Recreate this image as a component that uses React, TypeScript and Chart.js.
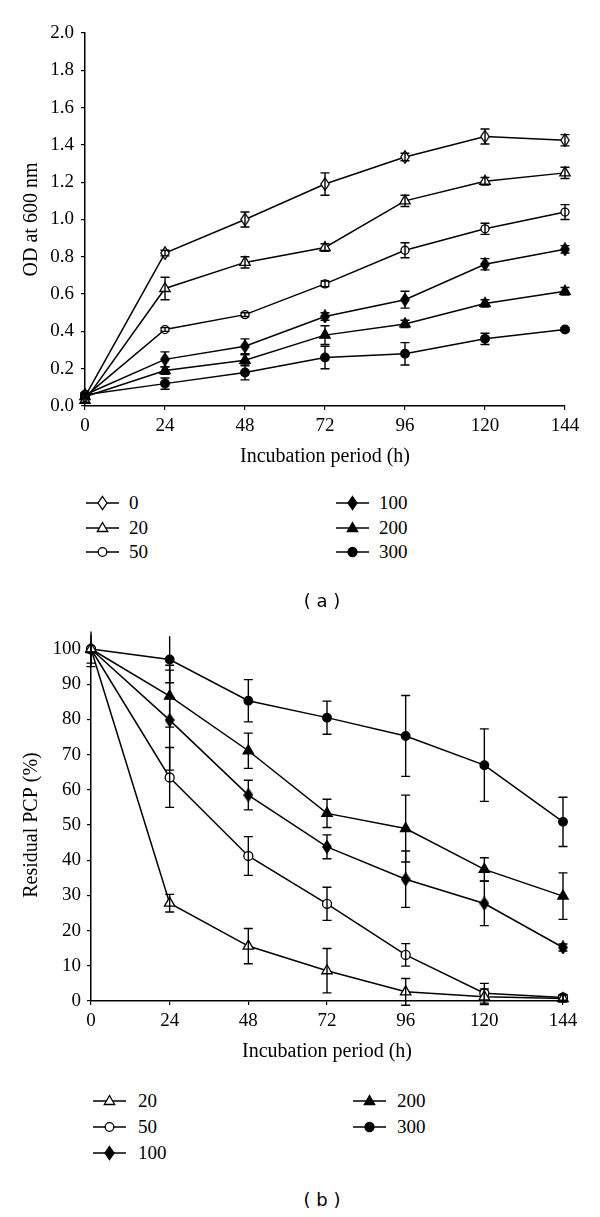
import React, { useEffect, useRef } from "react";
import { Chart, registerables } from "chart.js";
Chart.register(...registerables);

// ---------- data ----------
const hours = [0, 24, 48, 72, 96, 120, 144];

// (a) growth, OD at 600 nm
const odLabels = ["0", "20", "50", "100", "200", "300"];
const od0 = [0.05, 0.82, 1.0, 1.19, 1.335, 1.445, 1.425];
const od0Err = [0.01, 0.015, 0.04, 0.06, 0.02, 0.04, 0.03];
const od20 = [0.03, 0.63, 0.77, 0.85, 1.1, 1.205, 1.25];
const od20Err = [0.01, 0.06, 0.03, 0.02, 0.03, 0.02, 0.03];
const od50 = [0.05, 0.41, 0.49, 0.655, 0.835, 0.95, 1.04];
const od50Err = [0.01, 0.01, 0.01, 0.015, 0.04, 0.03, 0.04];
const od100 = [0.06, 0.25, 0.32, 0.48, 0.57, 0.76, 0.84];
const od100Err = [0.01, 0.04, 0.04, 0.02, 0.045, 0.03, 0.02];
const od200 = [0.05, 0.19, 0.245, 0.38, 0.44, 0.55, 0.615];
const od200Err = [0.01, 0.02, 0.03, 0.05, 0.02, 0.02, 0.02];
const od300 = [0.06, 0.12, 0.18, 0.26, 0.28, 0.36, 0.41];
const od300Err = [0.01, 0.03, 0.04, 0.06, 0.06, 0.03, 0.01];

// (b) residual PCP (%)
const pcpLabels = ["20", "50", "100", "200", "300"];
const pcp20 = [100, 27.8, 15.6, 8.6, 2.6, 1.2, 0.7];
const pcp20Err = [5, 2.5, 5, 6.3, 3.8, 2.2, 1.0];
const pcp50 = [100, 63.5, 41.2, 27.6, 13.1, 2.2, 1.0];
const pcp50Err = [4, 8.5, 5.5, 4.7, 3.2, 2.8, 0.8];
const pcp100 = [100, 79.8, 58.5, 43.8, 34.6, 27.7, 15.2];
const pcp100Err = [1, 14.2, 4.2, 3.4, 8, 6.3, 1];
const pcp200 = [100, 86.6, 71.1, 53.3, 49.0, 37.4, 29.8];
const pcp200Err = [1, 8.8, 5, 4, 9.5, 3.3, 6.6];
const pcp300 = [100, 97, 85.3, 80.5, 75.3, 67.0, 50.9];
const pcp300Err = [1, 6.6, 6, 4.7, 11.5, 10.3, 7];

const xTitle = "Incubation period (h)";
const odTitle = "OD at 600 nm";
const pcpTitle = "Residual PCP (%)";

type Mark = "diamond" | "triangle" | "circle";
type Series = { label: string; values: number[]; errs: number[]; mark: Mark; filled: boolean };

const odSeries: Series[] = [
  { label: odLabels[0], values: od0, errs: od0Err, mark: "diamond", filled: false },
  { label: odLabels[1], values: od20, errs: od20Err, mark: "triangle", filled: false },
  { label: odLabels[2], values: od50, errs: od50Err, mark: "circle", filled: false },
  { label: odLabels[3], values: od100, errs: od100Err, mark: "diamond", filled: true },
  { label: odLabels[4], values: od200, errs: od200Err, mark: "triangle", filled: true },
  { label: odLabels[5], values: od300, errs: od300Err, mark: "circle", filled: true },
];

const pcpSeries: Series[] = [
  { label: pcpLabels[0], values: pcp20, errs: pcp20Err, mark: "triangle", filled: false },
  { label: pcpLabels[1], values: pcp50, errs: pcp50Err, mark: "circle", filled: false },
  { label: pcpLabels[2], values: pcp100, errs: pcp100Err, mark: "diamond", filled: true },
  { label: pcpLabels[3], values: pcp200, errs: pcp200Err, mark: "triangle", filled: true },
  { label: pcpLabels[4], values: pcp300, errs: pcp300Err, mark: "circle", filled: true },
];

const SERIF = '"Liberation Serif", "Times New Roman", serif';

// ---------- helpers ----------
function diamondCanvas(filled: boolean, w: number, h: number) {
  const c = document.createElement("canvas");
  c.width = w;
  c.height = h;
  const ctx = c.getContext("2d")!;
  ctx.beginPath();
  ctx.moveTo(w / 2, 0.8);
  ctx.lineTo(w - 0.8, h / 2);
  ctx.lineTo(w / 2, h - 0.8);
  ctx.lineTo(0.8, h / 2);
  ctx.closePath();
  ctx.fillStyle = filled ? "#000" : "#fff";
  ctx.fill();
  ctx.lineWidth = 1.3;
  ctx.strokeStyle = "#000";
  ctx.stroke();
  return c;
}

const errorBarPlugin = {
  id: "errorBars",
  afterDatasetsDraw(chart: any) {
    const ctx = chart.ctx;
    const yScale = chart.scales.y;
    const yMax = yScale.max;
    chart.data.datasets.forEach((ds: any, i: number) => {
      const errs: number[] | undefined = ds.errors;
      if (!errs) return;
      const meta = chart.getDatasetMeta(i);
      ctx.save();
      ctx.strokeStyle = "#000";
      ctx.lineWidth = 1.4;
      meta.data.forEach((pt: any, j: number) => {
        const v = ds.data[j].y;
        const e = errs[j];
        const hi = v + e;
        const lo = v - e;
        const pTop = yScale.getPixelForValue(hi);
        const pBot = yScale.getPixelForValue(lo);
        const x = pt.x;
        ctx.beginPath();
        ctx.moveTo(x, pTop);
        ctx.lineTo(x, pBot);
        if (hi <= yMax) {
          ctx.moveTo(x - 4.5, pTop);
          ctx.lineTo(x + 4.5, pTop);
        }
        ctx.moveTo(x - 4.5, pBot);
        ctx.lineTo(x + 4.5, pBot);
        ctx.stroke();
      });
      ctx.restore();
    });
  },
};

function buildDatasets(series: Series[], big: boolean) {
  return series.map((s) => {
    let pointStyle: any = s.mark;
    let radius = 4.5;
    if (s.mark === "diamond") pointStyle = diamondCanvas(s.filled, 10, 14);
    if (s.mark === "triangle") radius = 6;
    if (s.mark === "circle") radius = s.filled ? 4.3 : big ? 4.5 : 4;
    return {
      label: s.label,
      data: hours.map((h, i) => ({ x: h, y: s.values[i] })),
      errors: s.errs,
      borderColor: "#000",
      borderWidth: 1.5,
      pointStyle,
      pointRadius: radius,
      pointBackgroundColor: s.filled ? "#000" : "#fff",
      pointBorderColor: "#000",
      pointBorderWidth: 1.3,
      fill: false,
      tension: 0,
      clip: false,
    };
  });
}

type AxisCfg = {
  yMin: number;
  yMax: number;
  yStep: number;
  yTitle: string;
  yWidth: number;
  padTop: number;
  padBottom: number;
  padRight: number;
  yTickPad: number;
  fmt: (v: number) => string;
};

function buildOptions(c: AxisCfg) {
  const tickFont = { family: SERIF, size: 19 };
  const titleFont = { family: SERIF, size: 20 };
  return {
    animation: false,
    responsive: false,
    events: [],
    layout: { padding: { left: 10, right: c.padRight, top: c.padTop, bottom: c.padBottom } },
    plugins: { legend: { display: false }, tooltip: { enabled: false } },
    scales: {
      x: {
        type: "linear",
        min: 0,
        max: 144,
        ticks: { stepSize: 24, color: "#000", font: tickFont, padding: 5 },
        grid: { drawOnChartArea: false, color: "#000", tickLength: 4, lineWidth: 1.2 },
        border: { display: true, color: "#000", width: 1.5 },
        title: { display: true, text: xTitle, color: "#000", font: titleFont, padding: { top: 0, bottom: 0 } },
        afterFit: (s: any) => {
          s.height = 63;
        },
      },
      y: {
        type: "linear",
        min: c.yMin,
        max: c.yMax,
        ticks: { stepSize: c.yStep, color: "#000", font: tickFont, padding: c.yTickPad, callback: (v: any) => c.fmt(Number(v)) },
        grid: { drawOnChartArea: false, color: "#000", tickLength: 4, lineWidth: 1.2 },
        border: { display: true, color: "#000", width: 1.5 },
        title: { display: true, text: c.yTitle, color: "#000", font: titleFont, padding: { top: 10, bottom: 0 } },
        afterFit: (s: any) => {
          s.width = c.yWidth;
        },
      },
    },
  };
}

function LegendSymbol({ mark, filled }: { mark: Mark; filled: boolean }) {
  const fill = filled ? "#000" : "#fff";
  let shape: any = null;
  if (mark === "diamond") shape = <polygon points="16.5,1.5 21,8 16.5,14.5 12,8" fill={fill} stroke="#000" strokeWidth={1.3} />;
  if (mark === "triangle") shape = <polygon points="16.5,2.5 21.7,11.5 11.3,11.5" fill={fill} stroke="#000" strokeWidth={1.3} />;
  if (mark === "circle") shape = <circle cx={16.5} cy={8} r={filled ? 4.5 : 4.3} fill={fill} stroke="#000" strokeWidth={1.3} />;
  return (
    <svg width={33} height={16} style={{ display: "block" }}>
      <line x1={0} y1={8} x2={33} y2={8} stroke="#000" strokeWidth={1.5} />
      {shape}
    </svg>
  );
}

function Legend({ series, rows, lineX, textX }: { series: Series[]; rows: number[]; lineX: number[]; textX: number[] }) {
  return (
    <>
      {series.map((s, i) => {
        const col = Math.floor(i / 3);
        const row = i % 3;
        const y = rows[row];
        return (
          <React.Fragment key={s.label}>
            <div style={{ position: "absolute", left: lineX[col], top: y - 8 }}>
              <LegendSymbol mark={s.mark} filled={s.filled} />
            </div>
            <div
              style={{
                position: "absolute",
                left: textX[col],
                top: y - 12,
                height: 24,
                lineHeight: "24px",
                fontFamily: SERIF,
                fontSize: 19,
                color: "#000",
                whiteSpace: "nowrap",
              }}
            >
              {s.label}
            </div>
          </React.Fragment>
        );
      })}
    </>
  );
}

function Caption({ text, cx, cy }: { text: string; cx: number; cy: number }) {
  return (
    <div
      style={{
        position: "absolute",
        left: cx - 60,
        width: 120,
        top: cy - 12,
        height: 24,
        lineHeight: "24px",
        textAlign: "center",
        fontFamily: '"DejaVu Sans", Verdana, sans-serif',
        fontSize: 18,
        color: "#000",
        whiteSpace: "pre",
      }}
    >
      {text}
    </div>
  );
}

export default function App() {
  const refA = useRef<HTMLCanvasElement | null>(null);
  const refB = useRef<HTMLCanvasElement | null>(null);

  useEffect(() => {
    const chartA = new Chart(refA.current as HTMLCanvasElement, {
      type: "line",
      data: { datasets: buildDatasets(odSeries, false) as any },
      options: buildOptions({
        yMin: 0,
        yMax: 2,
        yStep: 0.2,
        yTitle: odTitle,
        yWidth: 75,
        padTop: 33,
        padBottom: 11,
        padRight: 35,
        yTickPad: 7,
        fmt: (v) => v.toFixed(1),
      }) as any,
      plugins: [errorBarPlugin as any],
    });
    const chartB = new Chart(refB.current as HTMLCanvasElement, {
      type: "line",
      data: { datasets: buildDatasets(pcpSeries, true) as any },
      options: buildOptions({
        yMin: 0,
        yMax: 100,
        yStep: 10,
        yTitle: pcpTitle,
        yWidth: 81,
        padTop: 49,
        padBottom: 16,
        padRight: 37,
        yTickPad: 6,
        fmt: (v) => String(Math.round(v)),
      }) as any,
      plugins: [errorBarPlugin as any],
    });
    return () => {
      chartA.destroy();
      chartB.destroy();
    };
  }, []);

  return (
    <div style={{ position: "absolute", left: 0, top: 0, width: 600, height: 1217, background: "#fff", overflow: "hidden" }}>
      <canvas ref={refA} width={600} height={480} style={{ position: "absolute", left: 0, top: 0, width: 600, height: 480 }} />
      <canvas ref={refB} width={600} height={480} style={{ position: "absolute", left: 0, top: 600, width: 600, height: 480 }} />
      <Legend series={odSeries} rows={[503, 528, 552]} lineX={[86, 336]} textX={[129, 379]} />
      <Caption text="( a )" cx={322} cy={601} />
      <Legend series={pcpSeries} rows={[1101, 1127, 1153]} lineX={[93, 353]} textX={[138, 397]} />
      <Caption text="( b )" cx={322} cy={1200} />
    </div>
  );
}
